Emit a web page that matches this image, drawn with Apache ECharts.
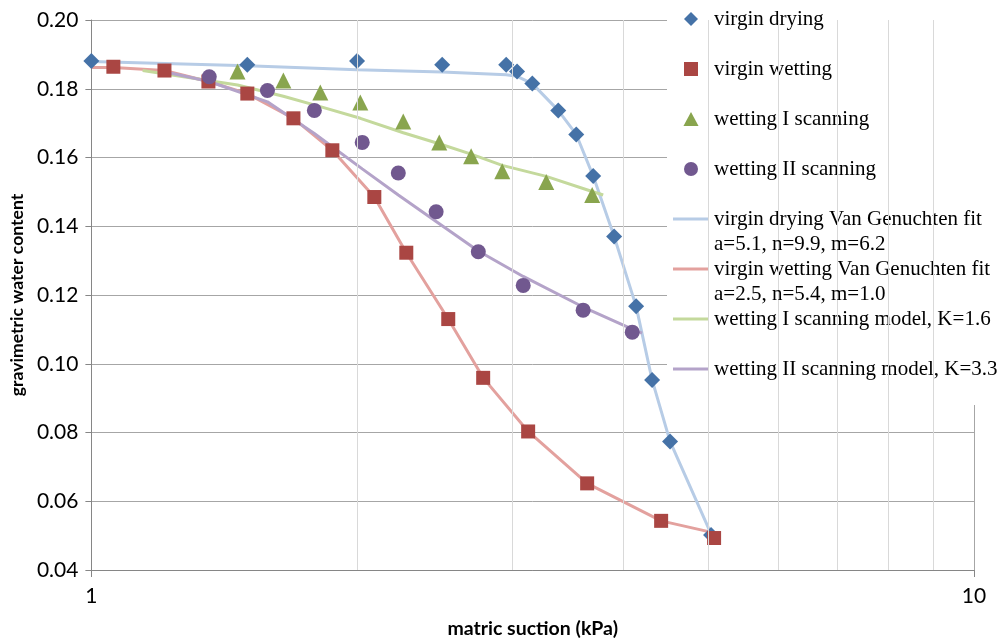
<!DOCTYPE html>
<html>
<head>
<meta charset="utf-8">
<script src="https://cdn.jsdelivr.net/npm/echarts@6/dist/echarts.min.js"></script>
<style>html,body{margin:0;padding:0;background:#fff;}#c{width:1003px;height:644px;}</style>
</head>
<body>
<div id="c"></div>
<script>
// ---- data (matric suction kPa, gravimetric water content) ----
const dryX = [1.0, 1.502, 2.0, 2.497, 2.951, 3.036, 3.159, 3.380, 3.543, 3.703, 3.911, 4.142, 4.318, 4.525, 5.036];
const dryY = [0.1881, 0.1870, 0.1881, 0.1870, 0.1870, 0.1850, 0.1815, 0.1737, 0.1667, 0.1546, 0.1370, 0.1167, 0.0953, 0.0774, 0.0502];

const wetX = [1.059, 1.210, 1.357, 1.502, 1.694, 1.875, 2.092, 2.274, 2.537, 2.779, 3.125, 3.645, 4.421, 5.076];
const wetY = [0.1864, 0.1853, 0.1821, 0.1786, 0.1714, 0.1621, 0.1485, 0.1323, 0.1130, 0.0959, 0.0803, 0.0652, 0.0543, 0.0493];

const scan1X = [1.464, 1.650, 1.817, 2.017, 2.256, 2.478, 2.693, 2.921, 3.276, 3.693];
const scan1Y = [0.1850, 0.1824, 0.1789, 0.1760, 0.1705, 0.1644, 0.1604, 0.1560, 0.1529, 0.1491];

const scan2X = [1.360, 1.583, 1.789, 2.027, 2.227, 2.458, 2.744, 3.085, 3.607, 4.100];
const scan2Y = [0.1835, 0.1795, 0.1737, 0.1644, 0.1555, 0.1442, 0.1326, 0.1228, 0.1156, 0.1092];

const dryFitX = [1.0, 1.502, 2.0, 2.497, 2.951, 3.036, 3.159, 3.380, 3.543, 3.703, 3.911, 4.142, 4.318, 4.525, 5.036];
const dryFitY = [0.1879, 0.1867, 0.1855, 0.1849, 0.1841, 0.1836, 0.1815, 0.1737, 0.1667, 0.1546, 0.1370, 0.1167, 0.0953, 0.0774, 0.0505];

const wetFitX = [1.0, 1.059, 1.210, 1.357, 1.502, 1.694, 1.875, 2.092, 2.274, 2.537, 2.779, 3.125, 3.645, 4.421, 5.076];
const wetFitY = [0.1862, 0.1862, 0.1853, 0.1821, 0.1786, 0.1714, 0.1621, 0.1485, 0.1323, 0.1130, 0.0959, 0.0803, 0.0652, 0.0543, 0.0508];

const scan1ModelX = [1.143, 1.464, 1.650, 1.817, 2.017, 2.256, 2.478, 2.693, 2.921, 3.276, 3.693, 3.801];
const scan1ModelY = [0.1853, 0.1811, 0.1778, 0.1748, 0.1714, 0.1672, 0.1640, 0.1610, 0.1577, 0.1545, 0.1501, 0.1491];

const scan2ModelX = [1.206, 1.360, 1.583, 1.789, 2.027, 2.227, 2.458, 2.744, 3.085, 3.607, 4.100, 4.207];
const scan2ModelY = [0.1850, 0.1821, 0.1762, 0.1670, 0.1567, 0.1491, 0.1414, 0.1328, 0.1254, 0.1165, 0.1101, 0.1089];

const minorGridX = [2, 3, 4, 5, 6, 7, 8, 9];

const names = ['virgin drying', 'virgin wetting', 'wetting I scanning', 'wetting II scanning',
  'virgin drying Van Genuchten fit', 'virgin wetting Van Genuchten fit',
  'wetting I scanning model, K=1.6', 'wetting II scanning model, K=3.3'];
const paramLines = ['a=5.1, n=9.9, m=6.2', 'a=2.5, n=5.4, m=1.0'];
const lineIcon = 'path://M0,0h36v3h-36z';
const legendIcons = [
  'path://M7,0L14,7L7,14L0,7Z',
  'path://M0,0h13v13h-13z',
  'path://M7,0L14,13L0,13Z',
  'circle',
  lineIcon, lineIcon, lineIcon, lineIcon];

const zip = (xs, ys) => xs.map((x, i) => [x, ys[i]]);

const chart = echarts.init(document.getElementById('c'), null, {renderer: 'canvas'});

const sansFont = 'Lato';
const serifFont = 'Liberation Serif';

function scatter(name, xs, ys, symbol, size, color) {
  return {
    name, type: 'scatter', z: 3, symbol, symbolSize: size,
    itemStyle: {color, opacity: 1},
    data: zip(xs, ys)
  };
}
function line(name, xs, ys, color) {
  return {
    name, type: 'line', z: 2, symbol: 'none', showSymbol: false,
    lineStyle: {color, width: 3}, itemStyle: {color},
    data: zip(xs, ys)
  };
}

chart.setOption({
  animation: false,
  backgroundColor: '#fff',
  grid: {left: 91, right: 29, top: 20, bottom: 71},
  xAxis: {
    type: 'log', logBase: 10, min: 1, max: 10,
    name: 'matric suction (kPa)', nameLocation: 'middle', nameGap: 49,
    nameTextStyle: {fontFamily: sansFont, fontWeight: 'bold', fontSize: 19.5, color: '#000'},
    axisLine: {show: true, lineStyle: {color: '#868686', width: 1}},
    axisTick: {show: true, length: 7, lineStyle: {color: '#868686'}},
    axisLabel: {fontFamily: sansFont, fontSize: 21, color: '#000', margin: 16},
    splitLine: {show: true, lineStyle: {color: '#a6a6a6', width: 1}}
  },
  yAxis: {
    type: 'value', min: 0.04, max: 0.20, interval: 0.02,
    name: 'gravimetric water content', nameLocation: 'middle', nameGap: 62,
    nameTextStyle: {fontFamily: sansFont, fontWeight: 'bold', fontSize: 17.6, color: '#000'},
    axisLine: {show: true, lineStyle: {color: '#868686', width: 1}},
    axisTick: {show: true, length: 6, lineStyle: {color: '#868686'}},
    axisLabel: {fontFamily: sansFont, fontSize: 21, color: '#000', margin: 13,
      formatter: v => v.toFixed(2)},
    splitLine: {show: true, lineStyle: {color: '#a6a6a6', width: 1}}
  },
  legend: {
    orient: 'vertical', left: 667, top: 0,
    padding: [6.5, 0, 0, 6],
    itemGap: 25, itemWidth: 36, itemHeight: 14,
    symbolKeepAspect: true,
    z: 5,
    data: names.map((n, i) => ({name: n, icon: legendIcons[i]})),
    textStyle: {fontFamily: serifFont, fontSize: 21, lineHeight: 25, color: '#000'}
  },
  graphic: {
    elements: [
      {type: 'rect', z: 3.5, shape: {x: 667, y: 0, width: 336, height: 405}, style: {fill: '#fff'}, silent: true},
      {type: 'text', z: 6, x: 714, y: 244, style: {text: paramLines[0], font: '21px "Liberation Serif"', fill: '#000', verticalAlign: 'middle'}},
      {type: 'text', z: 6, x: 714, y: 294, style: {text: paramLines[1], font: '21px "Liberation Serif"', fill: '#000', verticalAlign: 'middle'}}
    ]
  },
  series: [
    {
      name: 'minor grid', type: 'line', z: 1, data: [], silent: true,
      markLine: {
        silent: true, symbol: 'none', label: {show: false},
        lineStyle: {color: '#d9d9d9', type: 'solid', width: 1},
        data: minorGridX.map(v => ({xAxis: v}))
      }
    },
    line(names[4], dryFitX, dryFitY, '#b7cce6'),
    line(names[5], wetFitX, wetFitY, '#e3a19e'),
    line(names[6], scan1ModelX, scan1ModelY, '#c4d99c'),
    line(names[7], scan2ModelX, scan2ModelY, '#b4a3c9'),
    scatter(names[0], dryX, dryY, 'diamond', 16, '#4572a7'),
    scatter(names[1], wetX, wetY, 'rect', 14, '#aa4643'),
    scatter(names[2], scan1X, scan1Y, 'triangle', 16, '#89a54e'),
    scatter(names[3], scan2X, scan2Y, 'circle', 15, '#71588f')
  ]
});
</script>
</body>
</html>
